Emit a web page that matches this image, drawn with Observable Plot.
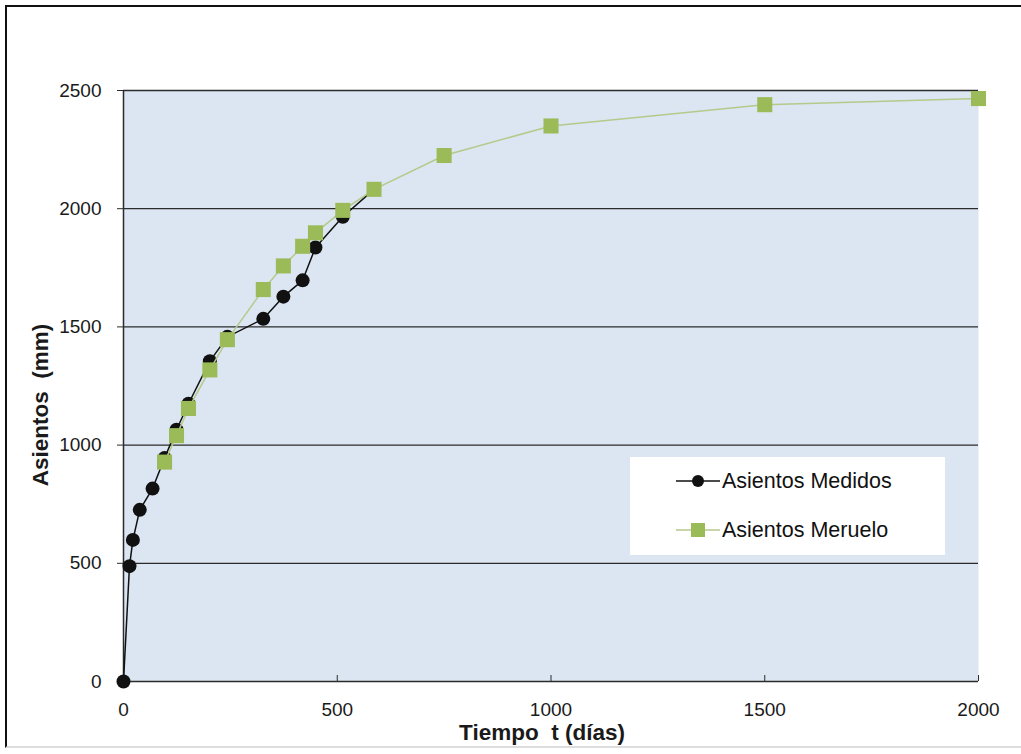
<!DOCTYPE html>
<html>
<head>
<meta charset="utf-8">
<script src="https://cdn.jsdelivr.net/npm/d3@7"></script>
<script src="https://cdn.jsdelivr.net/npm/@observablehq/plot@0.6"></script>
<style>
  html, body { margin: 0; padding: 0; background: #fff; }
  #wrap { position: relative; width: 1021px; height: 754px; overflow: hidden; font-family: "Liberation Sans", Arial, sans-serif; }
  #border { position: absolute; left: 5px; top: 5px; width: 1040px; height: 743px; border: 2px solid #111; border-bottom-color: #ddd; box-sizing: border-box; pointer-events: none; }
  #legend { position: absolute; left: 630px; top: 457px; width: 315px; height: 98px; background: #fff; font-size: 21.5px; color: #111; }
  .row { position: absolute; left: 46px; display: flex; align-items: center; height: 24px; }
  .row svg { margin-right: 2px; }
</style>
</head>
<body>
<div id="wrap">
  <div id="chart"></div>
  <div id="legend"></div>
  <div id="border"></div>
</div>
<script>
// Measured settlements (días, mm)
const tMedidos = [0, 14, 22, 38, 68, 96, 124, 152, 202, 243, 327, 374, 419, 449, 513, 586];
const sMedidos = [0, 488, 599, 726, 816, 945, 1065, 1175, 1355, 1458, 1534, 1628, 1697, 1836, 1966, 2082];

// Meruelo method settlements (días, mm)
const tMeruelo = [96, 124, 152, 202, 243, 327, 374, 419, 449, 513, 586, 750, 1000, 1500, 2000];
const sMeruelo = [928, 1040, 1155, 1318, 1446, 1658, 1758, 1841, 1898, 1993, 2082, 2225, 2350, 2440, 2466];

const xTicks = [0, 500, 1000, 1500, 2000];
const yTicks = [0, 500, 1000, 1500, 2000, 2500];

const seriesNames = ["Asientos Medidos", "Asientos Meruelo"];

const medidos = tMedidos.map((t, i) => ({t, s: sMedidos[i]}));
const meruelo = tMeruelo.map((t, i) => ({t, s: sMeruelo[i]}));

const black = "#111";
const green = "#9bbb59";
const greenLine = "#b5c98a";
const axisColor = "#2b2b2b";

const chart = Plot.plot({
  width: 1021,
  height: 754,
  marginLeft: 123,
  marginRight: 43,
  marginTop: 90,
  marginBottom: 73,
  style: {fontFamily: "'Liberation Sans', Arial, sans-serif", color: "#1a1a1a", background: "transparent"},
  x: {domain: [0, 2000]},
  y: {domain: [0, 2500]},
  marks: [
    Plot.frame({fill: "#dce6f2", stroke: null}),
    Plot.ruleY(yTicks.filter(d => d > 0), {stroke: axisColor, strokeWidth: 1.3}),
    Plot.ruleY([0], {stroke: axisColor, strokeWidth: 1.5}),
    Plot.ruleX([0], {stroke: axisColor, strokeWidth: 1.5}),
    Plot.axisY({ticks: yTicks, tickFormat: d => String(d), tickSize: 6, tickPadding: 16, fontSize: 19, label: null, stroke: axisColor}),
    Plot.axisX({ticks: xTicks, tickFormat: d => String(d), tickSize: -6, tickPadding: 27, fontSize: 19, label: null, stroke: axisColor}),
    Plot.line(medidos, {x: "t", y: "s", stroke: black, strokeWidth: 1.5}),
    Plot.dot(medidos, {x: "t", y: "s", r: 7, fill: black}),
    Plot.line(meruelo, {x: "t", y: "s", stroke: greenLine, strokeWidth: 1.5}),
    Plot.dot(meruelo, {x: "t", y: "s", symbol: "square", r: 8.5, fill: green}),
    Plot.text(["Tiempo\u00a0\u00a0t (días)"], {frameAnchor: "bottom", textAnchor: "middle", lineAnchor: "middle", dy: 51, dx: -9, fontSize: 22.5, fontWeight: "bold"}),
    Plot.text(["Asientos\u00a0\u00a0(mm)"], {frameAnchor: "left", textAnchor: "middle", lineAnchor: "middle", dx: -83, dy: 19, rotate: -90, fontSize: 22.5, fontWeight: "bold"})
  ]
});
document.getElementById("chart").appendChild(chart);

// Legend box inside the plot area
const legend = document.getElementById("legend");
const swatches = [
  `<svg width="44" height="16"><line x1="0" y1="8" x2="44" y2="8" stroke="${black}" stroke-width="1.5"/><circle cx="22" cy="8" r="6" fill="${black}"/></svg>`,
  `<svg width="44" height="16"><line x1="0" y1="8" x2="44" y2="8" stroke="${greenLine}" stroke-width="1.5"/><rect x="15" y="1" width="14" height="14" fill="${green}"/></svg>`
];
seriesNames.forEach((name, i) => {
  const row = document.createElement("div");
  row.className = "row";
  row.style.top = (i === 0 ? 12 : 61) + "px";
  row.innerHTML = swatches[i] + `<span>${name}</span>`;
  legend.appendChild(row);
});
</script>
</body>
</html>
